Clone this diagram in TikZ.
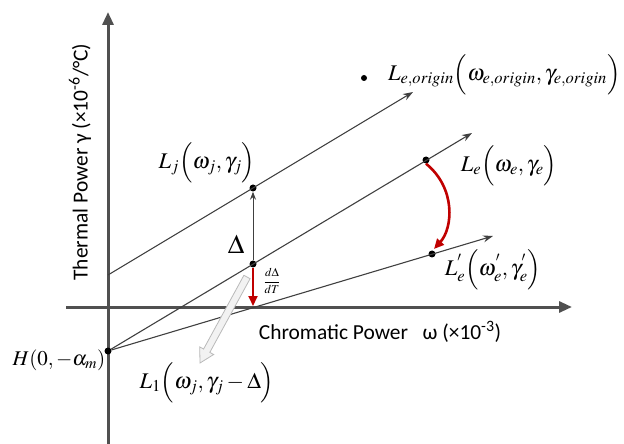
\documentclass[tikz,border=0pt]{standalone}
\usepackage{mathptmx}
\usepackage[no-math]{fontspec}
\setmainfont{Carlito}
\usetikzlibrary{arrows.meta}
\definecolor{axisgray}{HTML}{505050}
\definecolor{raygray}{HTML}{404040}
\definecolor{dred}{HTML}{C00000}
\begin{document}
\begin{tikzpicture}[x=1bp,y=-1bp,
    axis/.style={line width=3bp,draw=axisgray,-{Triangle[length=13bp,width=11bp]}},
    ray/.style={line width=1.1bp,draw=raygray,-{Stealth[length=10bp,width=7bp]}},
    redarrow/.style={draw=dred,-{Triangle[length=10bp,width=9bp]}},
    dot/.style={circle,fill=black,inner sep=0pt,minimum size=7bp},
    lbl/.style={font=\fontsize{22.5}{26}\selectfont,inner sep=0pt},
    axislbl/.style={font=\fontsize{21.5}{24}\selectfont,inner sep=0pt},
    hollow/.style={draw=gray!55,fill=gray!10,line width=0.8bp,line join=miter}]
    \useasboundingbox (0,0) rectangle (624,444);
    % axes
    \coordinate (ybot) at (108,444);
    \coordinate (ytop) at (108,12);
    \coordinate (xleft) at (66,307);
    \coordinate (xright) at (572,307);
    \draw[axis] (ybot)--(ytop);
    \draw[axis] (xleft)--(xright);
    \node[axislbl,rotate=90] (ylab) at (80,162) {Thermal Power γ (×10\textsuperscript{-6}/°C)};
    \node[axislbl] (xlab) at (380,332) {Chromatic Power\ \ \ ω (×10\textsuperscript{-3})};
    % points
    \node[dot] (H) at (108,351) {};
    \node[dot] (Lj) at (253,188) {};
    \node[dot] (Dj) at (253,264) {};
    \coordinate (Xj) at (253,306);
    \node[dot] (Le) at (426,160) {};
    \node[dot] (Lep) at (432,254) {};
    \node[dot,minimum size=6bp] (Leo) at (364,78) {};
    \coordinate (P1) at (108,275);
    \coordinate (E1) at (413,92);
    \coordinate (E2) at (472,133);
    \coordinate (E3) at (493,236);
    % rays
    \draw[ray] (P1)--(E1);
    \draw[ray] (H)--(E2);
    \draw[ray] (H)--(E3);
    \draw[ray,line width=1bp,-{Stealth[length=8bp,width=6bp]}] (Dj)--(Lj.south);
    \draw[redarrow,line width=2bp] (Dj)--(Xj);
    \draw[redarrow,line width=2.6bp] (Le.south) .. controls (456,188) and (453,228) .. (434,249);
    % hollow shift arrow
    \draw[hollow] (243.9,275.3)--(250.1,278.7)--(209.8,352.4)--(213.7,354.5)--(200,363)
        --(199.7,346.9)--(203.6,349.0)--cycle;
    % labels
    \node[lbl] (Ljlab) at (207,163) {$L_j\Bigl(\omega_j,\gamma_j\Bigr)$};
    \node[lbl,anchor=west] (Leolab) at (388,75) {$L_{e,origin}\Bigl(\omega_{e,origin},\gamma_{e,origin}\Bigr)$};
    \node[lbl] (Lelab) at (509,166) {$L_e\Bigl(\omega_e,\gamma_e\Bigr)$};
    \node[lbl] (Leplab) at (493,270) {$L^{'}_e\Bigl(\omega^{'}_e,\gamma^{'}_e\Bigr)$};
    \node[font=\fontsize{21}{24}\selectfont,inner sep=0pt] (Hlab) at (59,360) {$H(0,-\alpha_m)$};
    \node[lbl] (L1lab) at (207,383) {$L_1\Bigl(\omega_j,\gamma_j-\Delta\Bigr)$};
    \node[font=\fontsize{27}{30}\selectfont,inner sep=0pt] (dlt) at (236,244) {$\Delta$};
    \node[font=\fontsize{12}{14}\selectfont,inner sep=0pt] (rate) at (272,281) {$\displaystyle\frac{d\Delta}{dT}$};
\end{tikzpicture}
\end{document}
